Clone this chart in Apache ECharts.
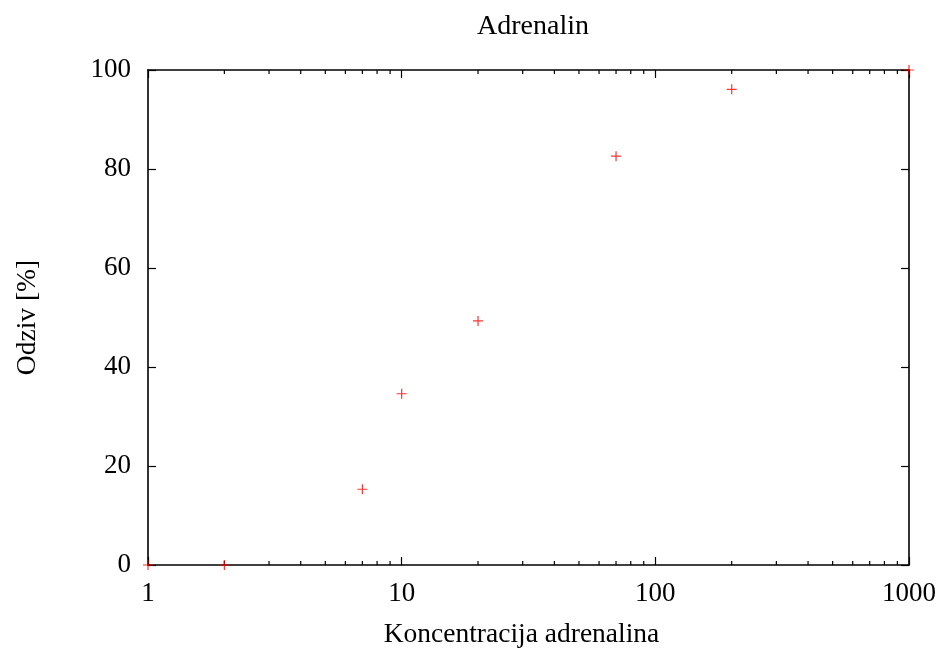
<!DOCTYPE html>
<html>
<head>
<meta charset="utf-8">
<script src="https://cdn.jsdelivr.net/npm/echarts@6/dist/echarts.min.js"></script>
<style>
  html, body { margin: 0; padding: 0; background: #fff; }
  #chart { width: 946px; height: 656px; }
</style>
</head>
<body>
<div id="chart"></div>
<script>
// izmjereni odziv
var koncentracija = [1, 2, 7, 10, 20, 70, 200, 1000];
var odziv = [0, 0, 15.3, 34.6, 49.3, 82.6, 96.1, 100];
var minorTicks = [2, 3, 4, 5, 6, 7, 8, 9, 20, 30, 40, 50, 60, 70, 80, 90, 200, 300, 400, 500, 600, 700, 800, 900];

var font = "'Liberation Serif', 'DejaVu Serif', serif";
var points = koncentracija.map(function (x, i) { return [x, odziv[i]]; });

var myChart = echarts.init(document.getElementById('chart'));

var axisCommon = {
  axisLine: { show: true, onZero: false, lineStyle: { color: '#000', width: 1.6 } },
  axisTick: { show: true, inside: true, length: 8, lineStyle: { color: '#000', width: 1.2 } },
  splitLine: { show: false }
};

var option = {
  animation: false,
  backgroundColor: '#fff',
  title: {
    text: 'Adrenalin',
    left: 528, textAlign: 'center',
    top: 8,
    textStyle: { fontFamily: font, fontWeight: 'normal', fontSize: 28, color: '#000' }
  },
  grid: { left: 148, right: 37, top: 70, bottom: 91 },
  xAxis: [
    Object.assign({
      type: 'log', logBase: 10, min: 1, max: 1000, position: 'bottom',
      name: 'Koncentracija adrenalina', nameLocation: 'middle', nameGap: 56,
      nameTextStyle: { fontFamily: font, fontSize: 27.5, color: '#000', padding: [0, 14, 0, 0] },
      axisLabel: {
        fontFamily: font, fontSize: 27, color: '#000', margin: 15,
        formatter: function (v) { return String(Math.round(v)); }
      }
    }, axisCommon),
    Object.assign({
      type: 'log', logBase: 10, min: 1, max: 1000, position: 'top',
      axisLabel: { show: false }
    }, axisCommon)
  ],
  yAxis: [
    Object.assign({
      type: 'value', min: 0, max: 100, interval: 20, position: 'left',
      name: 'Odziv [%]', nameLocation: 'middle', nameGap: 106,
      nameTextStyle: { fontFamily: font, fontSize: 27.5, color: '#000' },
      axisLabel: { fontFamily: font, fontSize: 27, color: '#000', margin: 17 }
    }, axisCommon),
    Object.assign({
      type: 'value', min: 0, max: 100, interval: 20, position: 'right',
      axisLabel: { show: false }
    }, axisCommon)
  ],
  series: [
    {
      // sporedne oznake na log osi
      type: 'custom',
      xAxisIndex: 0, yAxisIndex: 0,
      silent: true,
      data: minorTicks.map(function (v) { return [v, 0]; }),
      renderItem: function (params, api) {
        var x = api.coord([api.value(0), 0])[0];
        var cs = params.coordSys;
        var top = cs.y, bottom = cs.y + cs.height;
        var style = { stroke: '#000', lineWidth: 1.2 };
        return {
          type: 'group',
          children: [
            { type: 'line', shape: { x1: x, y1: bottom, x2: x, y2: bottom - 4 }, style: style },
            { type: 'line', shape: { x1: x, y1: top, x2: x, y2: top + 4 }, style: style }
          ]
        };
      }
    },
    {
      type: 'scatter',
      xAxisIndex: 0, yAxisIndex: 0,
      clip: false,
      data: points,
      symbol: 'path://M4.4,0H5.6V10H4.4ZM0,4.4H10V5.6H0Z',
      symbolSize: 10,
      itemStyle: { color: '#ff0000' }
    }
  ]
};

myChart.setOption(option);
window.addEventListener('resize', function () { myChart.resize(); });
</script>
</body>
</html>
